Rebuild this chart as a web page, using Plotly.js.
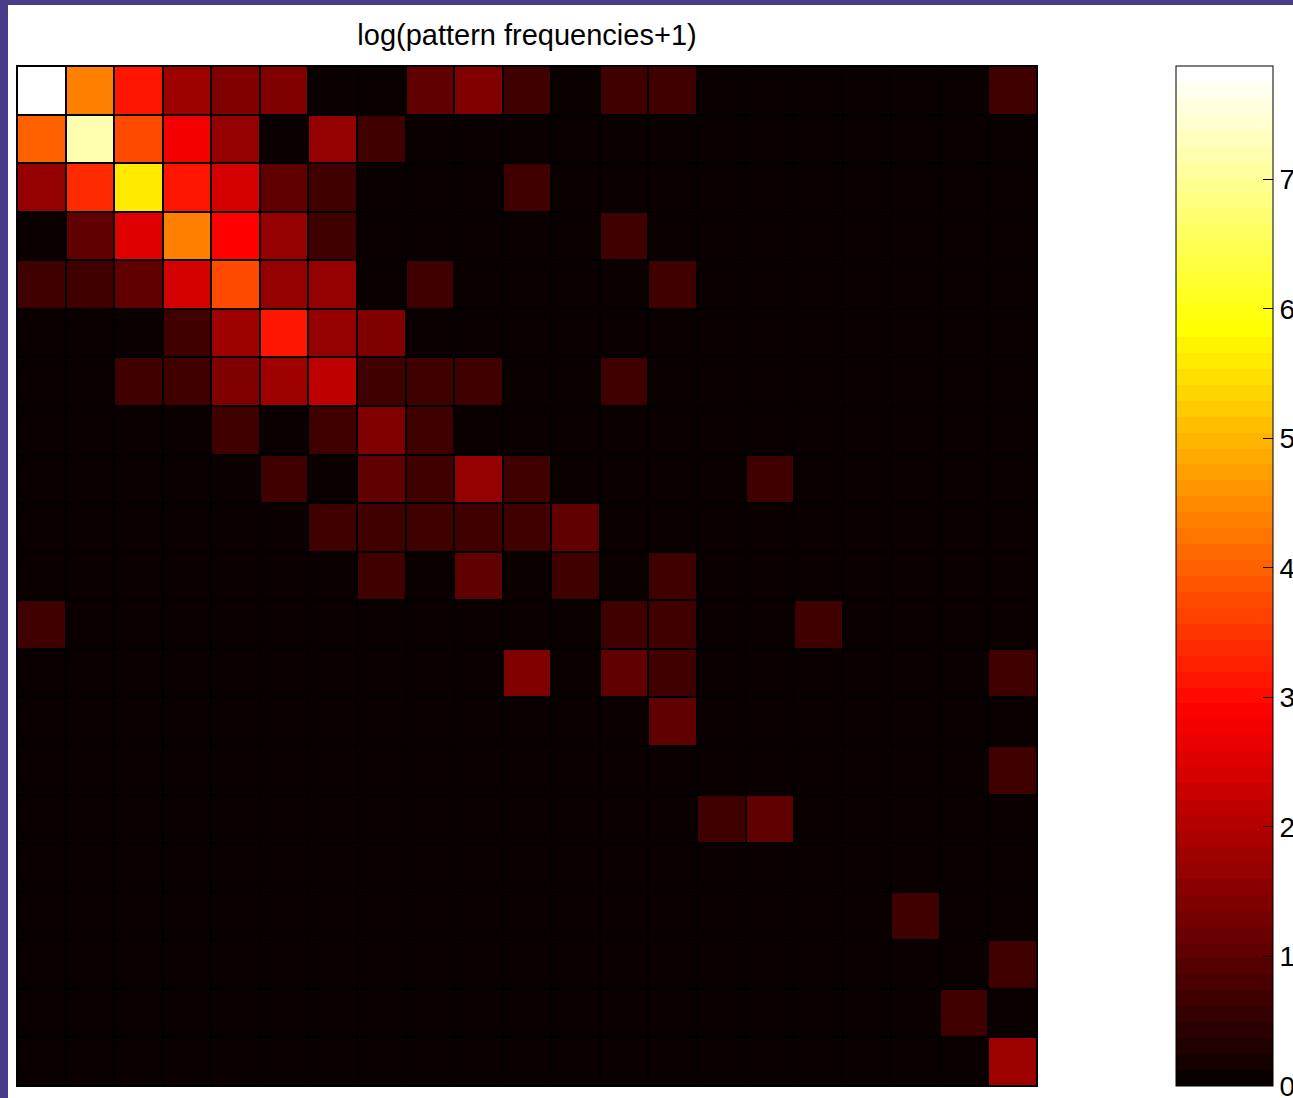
<!DOCTYPE html>
<html>
<head>
<meta charset="utf-8">
<script src="https://cdn.plot.ly/plotly-3.0.1.min.js"></script>
<style>
  html, body { margin: 0; padding: 0; background: #483D8B; width: 1293px; height: 1098px; overflow: hidden; }
  #chart { position: absolute; left: 8px; top: 5px; width: 1285px; height: 1093px; background: #ffffff; }
</style>
</head>
<body>
<div id="chart"></div>
<script>
// Pattern indices (rows and columns of the matrix)
const patterns = Array.from({length: 21}, (_, i) => i + 1);

// log(pattern frequencies + 1), read row by row (top row first)
const row01 = [7.87, 4.37, 3.14, 1.79, 1.39, 1.39, 0, 0, 1.1, 1.39, 0.69, 0, 0.69, 0.69, 0, 0, 0, 0, 0, 0, 0.69];
const row02 = [4.0, 7.2, 3.75, 2.77, 1.61, 0, 1.61, 0.69, 0, 0, 0, 0, 0, 0, 0, 0, 0, 0, 0, 0, 0];
const row03 = [1.61, 3.38, 5.6, 3.14, 2.4, 1.1, 0.69, 0, 0, 0, 0.69, 0, 0, 0, 0, 0, 0, 0, 0, 0, 0];
const row04 = [0, 1.1, 2.52, 4.37, 2.89, 1.61, 0.69, 0, 0, 0, 0, 0, 0.69, 0, 0, 0, 0, 0, 0, 0, 0];
const row05 = [0.69, 0.69, 1.1, 2.4, 3.75, 1.61, 1.61, 0, 0.69, 0, 0, 0, 0, 0.69, 0, 0, 0, 0, 0, 0, 0];
const row06 = [0, 0, 0, 0.69, 1.79, 3.14, 1.61, 1.39, 0, 0, 0, 0, 0, 0, 0, 0, 0, 0, 0, 0, 0];
const row07 = [0, 0, 0.69, 0.69, 1.39, 1.79, 2.2, 0.69, 0.69, 0.69, 0, 0, 0.69, 0, 0, 0, 0, 0, 0, 0, 0];
const row08 = [0, 0, 0, 0, 0.69, 0, 0.69, 1.39, 0.69, 0, 0, 0, 0, 0, 0, 0, 0, 0, 0, 0, 0];
const row09 = [0, 0, 0, 0, 0, 0.69, 0, 1.1, 0.69, 1.61, 0.69, 0, 0, 0, 0, 0.69, 0, 0, 0, 0, 0];
const row10 = [0, 0, 0, 0, 0, 0, 0.69, 0.69, 0.69, 0.69, 0.69, 1.1, 0, 0, 0, 0, 0, 0, 0, 0, 0];
const row11 = [0, 0, 0, 0, 0, 0, 0, 0.69, 0, 1.1, 0, 0.69, 0, 0.69, 0, 0, 0, 0, 0, 0, 0];
const row12 = [0.69, 0, 0, 0, 0, 0, 0, 0, 0, 0, 0, 0, 0.69, 0.69, 0, 0, 0.69, 0, 0, 0, 0];
const row13 = [0, 0, 0, 0, 0, 0, 0, 0, 0, 0, 1.39, 0, 1.1, 0.69, 0, 0, 0, 0, 0, 0, 0.69];
const row14 = [0, 0, 0, 0, 0, 0, 0, 0, 0, 0, 0, 0, 0, 1.1, 0, 0, 0, 0, 0, 0, 0];
const row15 = [0, 0, 0, 0, 0, 0, 0, 0, 0, 0, 0, 0, 0, 0, 0, 0, 0, 0, 0, 0, 0.69];
const row16 = [0, 0, 0, 0, 0, 0, 0, 0, 0, 0, 0, 0, 0, 0, 0.69, 1.1, 0, 0, 0, 0, 0];
const row17 = [0, 0, 0, 0, 0, 0, 0, 0, 0, 0, 0, 0, 0, 0, 0, 0, 0, 0, 0, 0, 0];
const row18 = [0, 0, 0, 0, 0, 0, 0, 0, 0, 0, 0, 0, 0, 0, 0, 0, 0, 0, 0.69, 0, 0];
const row19 = [0, 0, 0, 0, 0, 0, 0, 0, 0, 0, 0, 0, 0, 0, 0, 0, 0, 0, 0, 0, 0.69];
const row20 = [0, 0, 0, 0, 0, 0, 0, 0, 0, 0, 0, 0, 0, 0, 0, 0, 0, 0, 0, 0.69, 0];
const row21 = [0, 0, 0, 0, 0, 0, 0, 0, 0, 0, 0, 0, 0, 0, 0, 0, 0, 0, 0, 0, 1.79];

const colorbarTicks = [0, 1, 2, 3, 4, 5, 6, 7];
const zMin = 0;
const zMax = 7.876;

const z = [row01, row02, row03, row04, row05, row06, row07, row08, row09, row10, row11,
           row12, row13, row14, row15, row16, row17, row18, row19, row20, row21];

// MATLAB-style "hot" colormap with 64 discrete levels
function hotScale(n) {
  const n1 = Math.floor(3 * n / 8);
  const scale = [];
  for (let k = 0; k < n; k++) {
    const r = Math.min(1, (k + 1) / n1);
    const g = k < n1 ? 0 : Math.min(1, (k + 1 - n1) / n1);
    const b = k < 2 * n1 ? 0 : (k + 1 - 2 * n1) / (n - 2 * n1);
    const c = 'rgb(' + Math.round(r * 255) + ',' + Math.round(g * 255) + ',' + Math.round(b * 255) + ')';
    scale.push([k / n, c]);
    scale.push([(k + 1) / n, c]);
  }
  return scale;
}

const fontFam = '"Liberation Sans", Arial, Helvetica, sans-serif';

const trace = {
  type: 'heatmap',
  x: patterns,
  y: patterns,
  z: z,
  zmin: zMin,
  zmax: zMax,
  colorscale: hotScale(64),
  xgap: 2,
  ygap: 2,
  hoverongaps: false,
  colorbar: {
    thicknessmode: 'pixels',
    thickness: 97,
    lenmode: 'fraction',
    len: 1,
    x: 1.1363,
    xanchor: 'left',
    xref: 'paper',
    y: 0.5,
    yanchor: 'middle',
    xpad: 0,
    ypad: 0,
    outlinewidth: 1,
    outlinecolor: '#000000',
    tickmode: 'array',
    tickvals: colorbarTicks,
    ticktext: colorbarTicks.map(String),
    ticks: 'inside',
    ticklen: 10,
    tickwidth: 1,
    tickcolor: '#000000',
    ticklabeloverflow: 'allow',
    tickfont: { family: fontFam, size: 28, color: '#000000' }
  }
};

const layout = {
  width: 1285,
  height: 1093,
  margin: { l: 9, r: 256, t: 61, b: 12, autoexpand: false },
  paper_bgcolor: '#ffffff',
  plot_bgcolor: '#000000',
  font: { family: fontFam, color: '#000000' },
  title: {
    text: 'log(pattern frequencies+1)',
    font: { family: fontFam, size: 29, color: '#000000' },
    x: 0.5,
    xref: 'paper',
    xanchor: 'center',
    y: 0.9726,
    yref: 'container',
    yanchor: 'middle'
  },
  xaxis: {
    range: [0.5, 21.5],
    showticklabels: false,
    ticks: '',
    showgrid: false,
    zeroline: false,
    showline: true,
    mirror: true,
    linecolor: '#000000',
    linewidth: 1,
    fixedrange: true
  },
  yaxis: {
    range: [21.5, 0.5],
    showticklabels: false,
    ticks: '',
    showgrid: false,
    zeroline: false,
    showline: true,
    mirror: true,
    linecolor: '#000000',
    linewidth: 1,
    fixedrange: true
  }
};

Plotly.newPlot('chart', [trace], layout, { displayModeBar: false, staticPlot: true });
</script>
</body>
</html>
